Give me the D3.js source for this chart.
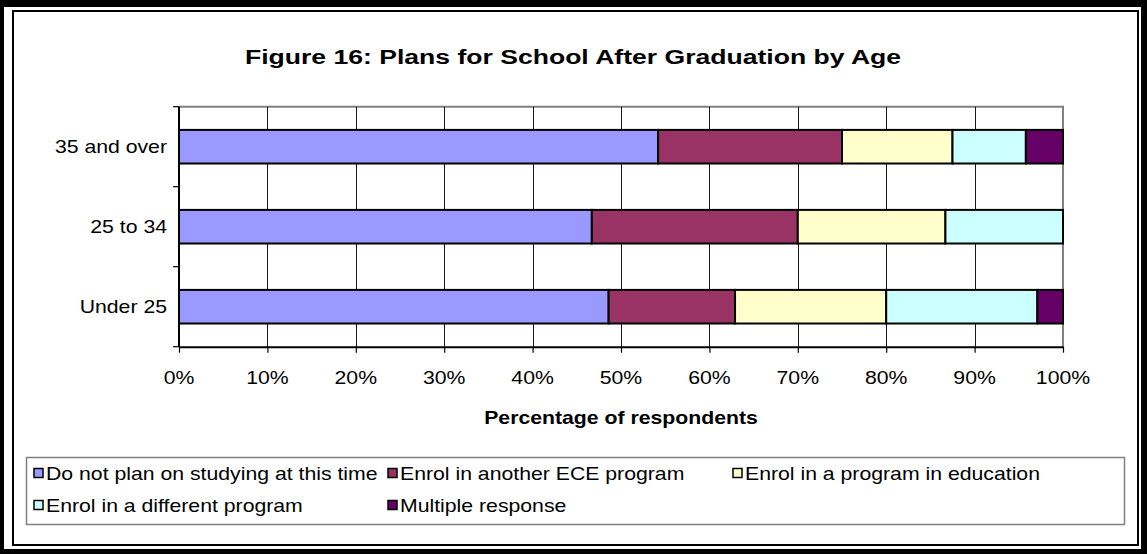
<!DOCTYPE html>
<html>
<head>
<meta charset="utf-8">
<script src="https://cdn.jsdelivr.net/npm/d3@7"></script>
<style>
  html, body { margin: 0; padding: 0; background: #fff; }
  svg { display: block; }
  text { font-family: "Liberation Sans", Arial, sans-serif; fill: #000; }
</style>
</head>
<body>
<svg id="chart" width="1147" height="554"></svg>
<script>
// Age groups, top to bottom
const categories = ["35 and over", "25 to 34", "Under 25"];

// Series names (legend order)
const seriesNames = [
  "Do not plan on studying at this time",
  "Enrol in another ECE program",
  "Enrol in a program in education",
  "Enrol in a different program",
  "Multiple response"
];

// Percent of respondents per age group, one array per series
const doNotPlan        = [54.2, 46.7, 48.6];
const anotherECE       = [20.8, 23.3, 14.3];
const programEducation = [12.5, 16.7, 17.1];
const differentProgram = [8.3, 13.3, 17.1];
const multipleResponse = [4.2, 0.0, 2.9];

const tickValues = [0, 10, 20, 30, 40, 50, 60, 70, 80, 90, 100];
const tickLabels = ["0%", "10%", "20%", "30%", "40%", "50%", "60%", "70%", "80%", "90%", "100%"];

const seriesColors = ["#9999FF", "#993366", "#FFFFCC", "#CCFFFF", "#660066"];

const W = 1147, H = 554;

const svg = d3.select("#chart");

// helper: text stretched horizontally around its anchor point
function label(g, x, y, str, opts = {}) {
  const sx = opts.sx || 1.18;
  return g.append("text")
    .attr("transform", `translate(${x},${y}) scale(${sx},1)`)
    .attr("text-anchor", opts.anchor || "start")
    .style("font-size", (opts.size || 18) + "px")
    .style("font-weight", opts.bold ? "bold" : "normal")
    .text(str);
}

// outer double frame
svg.append("rect").attr("x", 0).attr("y", 0).attr("width", W).attr("height", H).attr("fill", "#000");
svg.append("rect").attr("x", 4).attr("y", 7).attr("width", 1137).attr("height", 542).attr("fill", "#fff");
svg.append("rect").attr("x", 13).attr("y", 11).attr("width", 1125).attr("height", 534)
  .attr("fill", "none").attr("stroke", "#000").attr("stroke-width", 2);

// title
label(svg, 573, 64, "Figure 16: Plans for School After Graduation by Age", { anchor: "middle", size: 21, sx: 1.265, bold: true });

// plot geometry
const plot = { left: 179, right: 1063, top: 106.7, bottom: 346.7 };

const x = d3.scaleLinear().domain([0, 100]).range([plot.left, plot.right]);
const yBand = d3.scaleBand().domain(categories).range([plot.top, plot.bottom])
  .paddingInner(0.58).paddingOuter(0.29);
const yCat = d3.scaleBand().domain(categories).range([plot.top, plot.bottom]).padding(0);

const seriesArrays = [doNotPlan, anotherECE, programEducation, differentProgram, multipleResponse];
const rows = categories.map((c, i) => {
  const r = { category: c };
  seriesNames.forEach((s, j) => { r[s] = seriesArrays[j][i]; });
  return r;
});
const stacked = d3.stack().keys(seriesNames)(rows);

// plot frame (top and right in grey)
svg.append("path")
  .attr("d", `M${plot.left},${plot.top}H${plot.right}V${plot.bottom}`)
  .attr("fill", "none").attr("stroke", "#808080").attr("stroke-width", 2);

// vertical gridlines
svg.append("g").selectAll("line")
  .data(tickValues.slice(1, -1))
  .join("line")
  .attr("x1", d => Math.round(x(d)) + 0.5).attr("x2", d => Math.round(x(d)) + 0.5)
  .attr("y1", plot.top).attr("y2", plot.bottom)
  .attr("stroke", "#1a1a1a").attr("stroke-width", 1);

// bars
svg.append("g").selectAll("g")
  .data(stacked)
  .join("g")
  .attr("fill", (d, i) => seriesColors[i])
  .selectAll("rect")
  .data(d => d.filter(p => p[1] - p[0] > 0))
  .join("rect")
  .attr("x", d => x(d[0]))
  .attr("width", d => x(d[1]) - x(d[0]))
  .attr("y", d => yBand(d.data.category))
  .attr("height", yBand.bandwidth())
  .attr("stroke", "#000").attr("stroke-width", 2);

// x axis
const xAxis = svg.append("g")
  .attr("transform", `translate(0,${plot.bottom})`)
  .call(d3.axisBottom(x).tickValues(tickValues).tickSize(6).tickSizeOuter(0).tickFormat(() => ""));
xAxis.select(".domain").attr("stroke", "#000").attr("stroke-width", 2);
xAxis.selectAll(".tick line").attr("stroke", "#000").attr("stroke-width", 1.2);
tickValues.forEach((v, i) => label(svg, x(v), 384, tickLabels[i], { anchor: "middle" }));

// y axis: ticks at category boundaries
const boundaries = categories.map(c => yCat(c)).concat([plot.bottom]);
svg.append("line").attr("x1", plot.left).attr("x2", plot.left)
  .attr("y1", plot.top).attr("y2", plot.bottom)
  .attr("stroke", "#000").attr("stroke-width", 2);
svg.append("g").selectAll("line")
  .data(boundaries)
  .join("line")
  .attr("x1", plot.left - 6).attr("x2", plot.left)
  .attr("y1", d => d).attr("y2", d => d)
  .attr("stroke", "#000").attr("stroke-width", 1.2);
categories.forEach(c => label(svg, 167, yCat(c) + yCat.bandwidth() / 2 + 6.5, c, { anchor: "end" }));

// axis title
label(svg, (plot.left + plot.right) / 2, 424, "Percentage of respondents", { anchor: "middle", bold: true });

// legend
svg.append("rect").attr("x", 26.5).attr("y", 457.5).attr("width", 1098).attr("height", 67)
  .attr("fill", "#fff").attr("stroke", "#808080").attr("stroke-width", 1.5);
const legendPos = [
  { x: 34, y: 473 }, { x: 388, y: 473 }, { x: 733, y: 473 },
  { x: 34, y: 505 }, { x: 388, y: 505 }
];
seriesNames.forEach((s, i) => {
  const p = legendPos[i];
  svg.append("rect").attr("x", p.x).attr("y", p.y - 4.5).attr("width", 9).attr("height", 9)
    .attr("fill", seriesColors[i]).attr("stroke", "#000").attr("stroke-width", 1.5);
  label(svg, p.x + 12, p.y + 6.5, s);
});
</script>
</body>
</html>
